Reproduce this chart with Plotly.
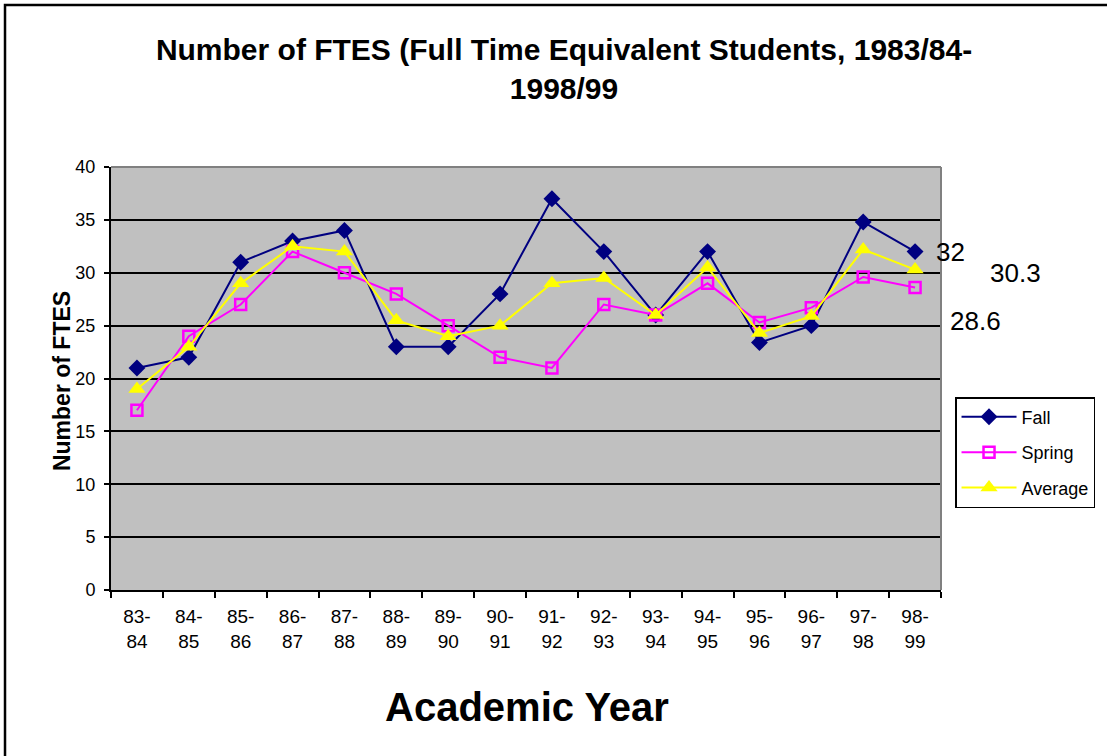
import plotly.graph_objects as go

# Academic years (x categories)
years = ["83-<br>84", "84-<br>85", "85-<br>86", "86-<br>87", "87-<br>88", "88-<br>89",
         "89-<br>90", "90-<br>91", "91-<br>92", "92-<br>93", "93-<br>94", "94-<br>95",
         "95-<br>96", "96-<br>97", "97-<br>98", "98-<br>99"]

fall = [21, 22, 31, 33, 34, 23, 23, 28, 37, 32, 26, 32, 23.4, 25, 34.8, 32]
spring = [17, 24, 27, 32, 30, 28, 25, 22, 21, 27, 26, 29, 25.3, 26.7, 29.6, 28.6]
average = [19, 23, 29, 32.5, 32, 25.5, 24, 25, 29, 29.5, 26, 30.5, 24.3, 25.9, 32.2, 30.3]

# labels shown next to the last point
last_labels = ["32", "30.3", "28.6"]

FONT = "Liberation Sans, Arial, sans-serif"

fig = go.Figure()
fig.add_trace(go.Scatter(x=years, y=fall, name="Fall", mode="lines+markers",
                         legendgroup="a",
                         line=dict(color="#000080", width=2),
                         marker=dict(symbol="diamond", size=13, color="#000080")))
fig.add_trace(go.Scatter(x=years, y=spring, name="Spring", mode="lines+markers",
                         legendgroup="b",
                         line=dict(color="#FF00FF", width=2),
                         marker=dict(symbol="square-open", size=11, color="#FF00FF",
                                     line=dict(width=2.5, color="#FF00FF"))))
fig.add_trace(go.Scatter(x=years, y=average, name="Average", mode="lines+markers",
                         legendgroup="c",
                         line=dict(color="#FFFF00", width=2),
                         marker=dict(symbol="triangle-up", size=15, color="#FFFF00")))

# data labels on the last category
offsets = [(35, 0), (100, -3), (60, -33)]
for series, lab, (dx, dy) in zip([fall, average, spring], last_labels, offsets):
    fig.add_annotation(x=years[-1], y=series[-1], text=lab, showarrow=False,
                       xshift=dx, yshift=dy, font=dict(size=26, color="black", family=FONT))

# axis titles as annotations
fig.add_annotation(text="<b>Academic Year</b>", xref="paper", yref="paper",
                   x=0.501, y=-0.2766, yanchor="middle", showarrow=False,
                   font=dict(size=40, family=FONT, color="black"))
fig.add_annotation(text="<b>Number of FTES</b>", xref="paper", yref="paper",
                   x=-0.0771, y=0.494, textangle=-90, showarrow=False,
                   font=dict(size=23, family=FONT, color="black"))

# outer chart frame
fig.add_shape(type="rect", xref="paper", yref="paper", x0=-0.1277, x1=1.3,
              y0=-0.6, y1=1.383, line=dict(color="black", width=2.5), layer="below")

fig.update_layout(
    width=1107, height=756,
    margin=dict(l=111, r=166, t=167, b=166),
    paper_bgcolor="white",
    plot_bgcolor="#C0C0C0",
    font=dict(family=FONT, color="black", size=17),
    title=dict(text="<b>Number of FTES (Full Time Equivalent Students, 1983/84-<br>1998/99</b>",
               x=0.5095, xanchor="center", y=0.921, yanchor="middle",
               font=dict(size=30, family=FONT)),
    showlegend=True,
    legend=dict(x=1.0169, y=0.456, xanchor="left", yanchor="top",
                bordercolor="black", borderwidth=1.5, bgcolor="white",
                font=dict(size=18, family=FONT), tracegroupgap=9, itemwidth=55),
    xaxis=dict(type="category", range=[-0.5, 15.5], showgrid=False, showline=True,
               linecolor="black", linewidth=2, ticks="outside", tickson="boundaries",
               ticklen=6, tickcolor="black", tickwidth=2, tickfont=dict(size=19),
               ticklabelstandoff=8),
    yaxis=dict(range=[0, 40], dtick=5, showgrid=True, gridcolor="black", gridwidth=1.5,
               showline=True, linecolor="black", linewidth=2, ticks="outside",
               ticklen=5, tickcolor="black", tickwidth=2, tickfont=dict(size=18),
               ticklabelstandoff=5, zeroline=False),
)

# gray top/right border of plot area
fig.add_shape(type="line", xref="paper", yref="paper", x0=0, x1=1, y0=1, y1=1,
              line=dict(color="#808080", width=2))
fig.add_shape(type="line", xref="paper", yref="paper", x0=1, x1=1, y0=0, y1=1,
              line=dict(color="#808080", width=2))

fig.write_html("out.html", config={"displayModeBar": False},
               post_script="document.body.style.margin='0';")
